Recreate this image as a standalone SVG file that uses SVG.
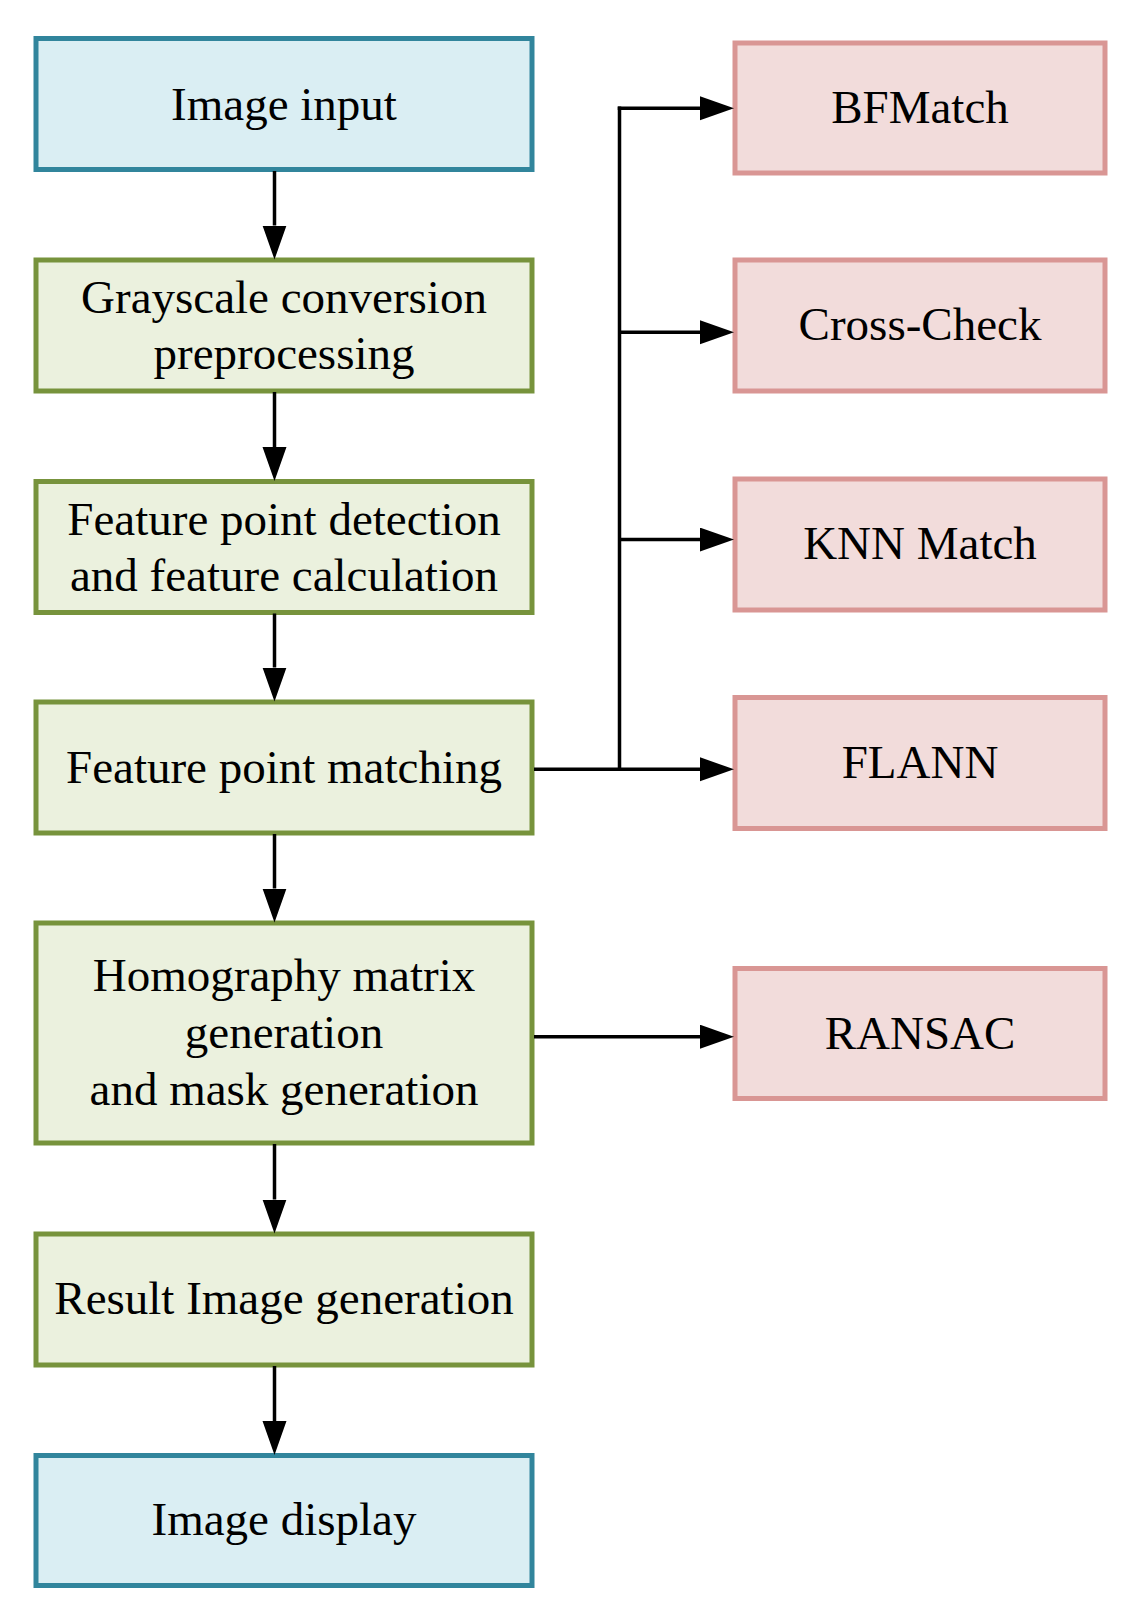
<svg xmlns="http://www.w3.org/2000/svg" width="1140" height="1617" viewBox="0 0 1140 1617">
<style>
.blue{fill:#DAEEF3;stroke:#31859C;stroke-width:5}
.green{fill:#EBF1DE;stroke:#77933C;stroke-width:5}
.pink{fill:#F2DCDB;stroke:#D99694;stroke-width:5}
text{font-family:"Liberation Serif","Times New Roman",serif;font-size:47px;fill:#000;text-anchor:middle}
.conn{stroke:#000;stroke-width:3.5;fill:none}
</style>
<defs>
<marker id="arr" markerUnits="userSpaceOnUse" markerWidth="35" markerHeight="25" refX="0" refY="12" orient="auto">
<path d="M0,0 L34,12 L0,24 z" fill="#000"/>
</marker>
</defs>
<rect width="1140" height="1617" fill="#fff"/>
<g id="n1"><rect class="blue" x="36" y="38.5" width="496" height="131"/><text x="284" y="120">Image input</text></g>
<g id="n2"><rect class="green" x="36" y="260" width="496" height="131"/><text x="284" y="313">Grayscale conversion</text><text x="284" y="368.5">preprocessing</text></g>
<g id="n3"><rect class="green" x="36" y="481.5" width="496" height="131"/><text x="284" y="535">Feature point detection</text><text x="284" y="591">and feature calculation</text></g>
<g id="n4"><rect class="green" x="36" y="702" width="496" height="131"/><text x="284" y="783">Feature point matching</text></g>
<g id="n5"><rect class="green" x="36" y="923" width="496" height="220"/><text x="284" y="991">Homography matrix</text><text x="284" y="1048">generation</text><text x="284" y="1105">and mask generation</text></g>
<g id="n6"><rect class="green" x="36" y="1234" width="496" height="131"/><text x="284" y="1313.5">Result Image generation</text></g>
<g id="n7"><rect class="blue" x="36" y="1455.5" width="496" height="130"/><text x="284" y="1535">Image display</text></g>
<g id="p1"><rect class="pink" x="735" y="43" width="370" height="130"/><text x="920" y="122.5">BFMatch</text></g>
<g id="p2"><rect class="pink" x="735" y="260" width="370" height="131"/><text x="920" y="340">Cross-Check</text></g>
<g id="p3"><rect class="pink" x="735" y="479" width="370" height="131"/><text x="920" y="559">KNN Match</text></g>
<g id="p4"><rect class="pink" x="735" y="697.5" width="370" height="131"/><text x="920" y="778">FLANN</text></g>
<g id="p5"><rect class="pink" x="735" y="968.5" width="370" height="130"/><text x="920" y="1048.5">RANSAC</text></g>
<g id="connectors">
<line class="conn" x1="274.5" y1="171" x2="274.5" y2="225.5" marker-end="url(#arr)"/>
<line class="conn" x1="274.5" y1="392" x2="274.5" y2="447" marker-end="url(#arr)"/>
<line class="conn" x1="274.5" y1="613.5" x2="274.5" y2="667.5" marker-end="url(#arr)"/>
<line class="conn" x1="274.5" y1="834" x2="274.5" y2="888.5" marker-end="url(#arr)"/>
<line class="conn" x1="274.5" y1="1144" x2="274.5" y2="1199.5" marker-end="url(#arr)"/>
<line class="conn" x1="274.5" y1="1366" x2="274.5" y2="1421" marker-end="url(#arr)"/>
<line class="conn" x1="619.5" y1="106.6" x2="619.5" y2="769.3"/>
<line class="conn" x1="617.75" y1="108.3" x2="700" y2="108.3" marker-end="url(#arr)"/>
<line class="conn" x1="619.5" y1="332.3" x2="700" y2="332.3" marker-end="url(#arr)"/>
<line class="conn" x1="619.5" y1="539.6" x2="700" y2="539.6" marker-end="url(#arr)"/>
<line class="conn" x1="534" y1="769.3" x2="700" y2="769.3" marker-end="url(#arr)"/>
<line class="conn" x1="534" y1="1036.7" x2="700" y2="1036.7" marker-end="url(#arr)"/>
</g>
</svg>
